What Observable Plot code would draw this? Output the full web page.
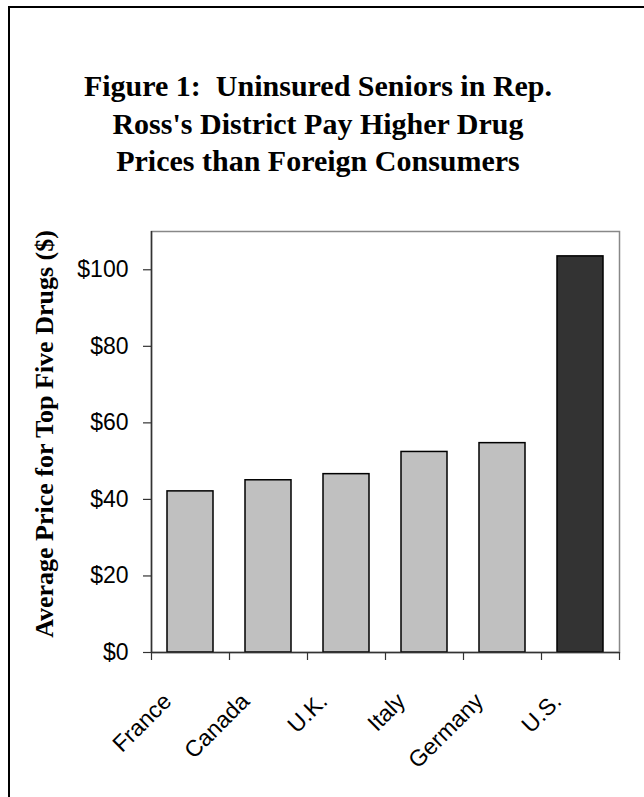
<!DOCTYPE html>
<html>
<head>
<meta charset="utf-8">
<script src="https://cdn.jsdelivr.net/npm/d3@7"></script>
<script src="https://cdn.jsdelivr.net/npm/@observablehq/plot@0.6"></script>
<style>
  html, body { margin: 0; padding: 0; background: #fff; overflow: hidden; }
  body { width: 644px; height: 797px; position: relative; }
  #border { position: absolute; left: 8px; top: 6px; width: 700px; height: 900px;
            border-left: 2px solid #000; border-top: 2px solid #000; pointer-events: none; }
  #title { position: absolute; left: 0; top: 0; width: 636px; height: 200px;
           font-family: "Liberation Serif", "Times New Roman", serif; font-weight: bold;
           font-size: 30px; line-height: 37.5px; text-align: center; color: #000; }
  #title .inner { position: absolute; left: 0; right: 0; top: 67px; }
  #chart { position: absolute; left: 0; top: 200px; }
</style>
</head>
<body>
<div id="border"></div>
<div id="title"><div class="inner">Figure 1:&nbsp; Uninsured Seniors in Rep.<br>Ross's District Pay Higher Drug<br>Prices than Foreign Consumers</div></div>
<div id="chart"></div>
<script>
const categories = ["France", "Canada", "U.K.", "Italy", "Germany", "U.S."];
const prices = [42.1, 45.0, 46.6, 52.4, 54.7, 103.5];
const barColors = ["#C0C0C0", "#C0C0C0", "#C0C0C0", "#C0C0C0", "#C0C0C0", "#333333"];
const yTicks = [0, 20, 40, 60, 80, 100];
const yLabel = "Average Price for Top Five Drugs ($)";

const data = categories.map((c, i) => ({category: c, i, price: prices[i], color: barColors[i]}));
const boundaries = d3.range(categories.length + 1);

const plot = Plot.plot({
  width: 644,
  height: 597,
  marginLeft: 151,
  marginRight: 25,
  marginTop: 31,
  marginBottom: 145,
  style: {fontFamily: "'Liberation Sans', Arial, sans-serif", background: "transparent", color: "#000"},
  x: {domain: [0, categories.length], axis: null},
  y: {domain: [0, 110], axis: null},
  marks: [
    Plot.frame({stroke: "#888", strokeWidth: 1.5}),
    Plot.rectY(data, {x1: "i", x2: d => d.i + 1, y: "price", fill: "color",
      stroke: "#000", strokeWidth: 1.5, insetLeft: 16, insetRight: 16}),
    Plot.axisY({ticks: yTicks, tickSize: 8, tickFormat: () => "", stroke: "#333", strokeWidth: 1.2, label: null}),
    Plot.text(yTicks, {y: d => d, frameAnchor: "left", text: d => "$" + d, textAnchor: "end",
      lineAnchor: "middle", fontSize: 23, dx: -23, fill: "#000"}),
    Plot.ruleX([0], {stroke: "#333", strokeWidth: 1.5}),
    Plot.ruleY([0], {stroke: "#333", strokeWidth: 1.5}),
    Plot.axisX({ticks: boundaries, tickSize: 8, tickFormat: () => "", stroke: "#333", strokeWidth: 1.2, label: null}),
    Plot.text(categories, {x: (d, i) => i + 0.5, frameAnchor: "bottom", text: d => d,
      rotate: -45, textAnchor: "end", lineAnchor: "middle", fontSize: 23, dx: -23, dy: 45, fill: "#000"}),
    Plot.text([yLabel], {frameAnchor: "left", text: d => d, rotate: -90, textAnchor: "middle", lineAnchor: "middle",
      fontSize: 26, fontWeight: "bold", fontFamily: "'Liberation Serif', 'Times New Roman', serif",
      dx: -107, dy: -8, fill: "#000"})
  ]
});
document.getElementById("chart").appendChild(plot);
</script>
</body>
</html>
